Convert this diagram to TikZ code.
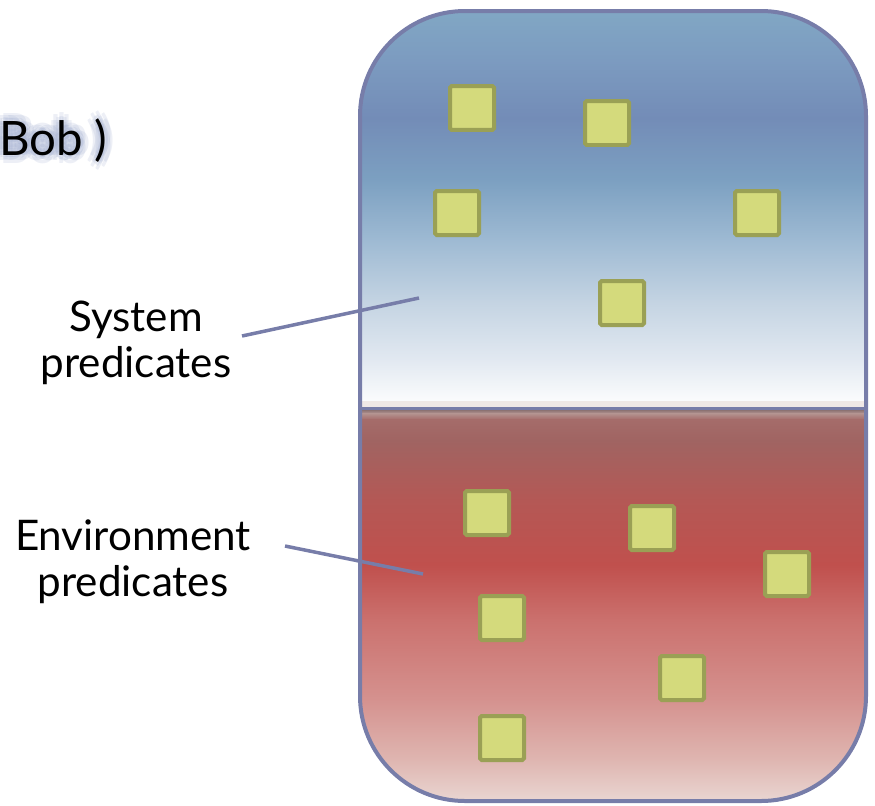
\documentclass[tikz,border=0pt]{standalone}
\usepackage{fontspec}
\setmainfont{Lato}

\definecolor{frameblue}{HTML}{777DA9}
\definecolor{boxfill}{HTML}{D4DA7C}
\definecolor{boxedge}{HTML}{9AA055}
\definecolor{glowblue}{HTML}{A3AFD0}
% blue half, top to bottom
\definecolor{bl1}{HTML}{81A7C4}
\definecolor{bl2}{HTML}{7C9BC0}
\definecolor{bl3}{HTML}{738CB7}
\definecolor{bl4}{HTML}{7CA0C1}
\definecolor{bl5}{HTML}{9EBAD3}
\definecolor{bl6}{HTML}{C3D3E2}
\definecolor{bl7}{HTML}{E2E9F1}
\definecolor{bl8}{HTML}{FBFCFD}
\definecolor{seam}{HTML}{EFE8E6}
% red half, top to bottom
\definecolor{rd1}{HTML}{8C7272}
\definecolor{rd2}{HTML}{B49592}
\definecolor{rd3}{HTML}{A56C6A}
\definecolor{rd4}{HTML}{A06462}
\definecolor{rd5}{HTML}{B45855}
\definecolor{rd6}{HTML}{C0504D}
\definecolor{rd7}{HTML}{CB716E}
\definecolor{rd8}{HTML}{D5928F}
\definecolor{rd9}{HTML}{DFB6B1}
\definecolor{rd10}{HTML}{EAD9D5}

\tikzset{
  predbox/.style={draw=boxedge, fill=boxfill, line width=0.08cm,
    minimum size=0.88cm, inner sep=0pt, rounded corners=1pt},
  pointer/.style={draw=frameblue, line width=0.07cm},
  lbl/.style={align=center, inner sep=0pt, font=\fontsize{24}{26}\selectfont},
  boblbl/.style={inner sep=0pt, anchor=base east, font=\fontsize{27}{30}\selectfont},
}

\begin{document}
\begin{tikzpicture}[x=0.02cm, y=-0.02cm]
  \useasboundingbox (0,0) rectangle (875,805);

  % the two halves
  \begin{scope}
    \path[clip, rounded corners=2.1cm] (360,11) rectangle (866,801);
    \foreach \ya/\ca/\yb/\cb in {0/bl1/11/bl1, 11/bl1/60/bl2, 60/bl2/118/bl3,
        118/bl3/180/bl4, 180/bl4/240/bl5, 240/bl5/300/bl6, 300/bl6/360/bl7,
        360/bl7/401/bl8, 401/seam/407/seam,
        410/rd1/413/rd2, 413/rd2/419/rd3, 419/rd3/440/rd4, 440/rd4/500/rd5,
        500/rd5/565/rd6, 565/rd6/620/rd7, 620/rd7/700/rd8, 700/rd8/760/rd9,
        760/rd9/805/rd10}
      \shade[top color=\ca, bottom color=\cb] (355,\ya) rectangle (870,\yb+0.6);
    \draw[draw=frameblue, line width=0.06cm] (355,408.5) -- (870,408.5);
  \end{scope}

  % system predicates
  \path
    (472,108) node[predbox] (sys1) {}
    (607,123) node[predbox] (sys2) {}
    (457,213) node[predbox] (sys3) {}
    (757,213) node[predbox] (sys4) {}
    (622,303) node[predbox] (sys5) {};
  % environment predicates
  \path
    (487,513) node[predbox] (env1) {}
    (652,528) node[predbox] (env2) {}
    (787,574) node[predbox] (env3) {}
    (502,618) node[predbox] (env4) {}
    (682,678) node[predbox] (env5) {}
    (502,738) node[predbox] (env6) {};

  \draw[draw=frameblue, line width=0.08cm, rounded corners=2.1cm]
    (360,11) rectangle (866,801);

  % glowing text
  \coordinate (bobpos) at (108,155);
  \foreach \a in {0,45,...,315}
    \foreach \r in {4,8}
      \node[boblbl, text=glowblue, opacity=0.2]
        (glow\a-\r) at ([shift={(\a:\r)}]bobpos) {Bob )};
  \node[boblbl] (bob) at (bobpos) {Bob )};

  \node[lbl] (syslbl) at (136,343) {System\\predicates};
  \node[lbl] (envlbl) at (133,562) {Environment\\predicates};

  \coordinate (sysfoot) at (242,336);
  \coordinate (systip) at (419,298);
  \coordinate (envfoot) at (285,546);
  \coordinate (envtip) at (423,574);
  \draw[pointer] (sysfoot) -- (systip);
  \draw[pointer] (envfoot) -- (envtip);
\end{tikzpicture}
\end{document}
